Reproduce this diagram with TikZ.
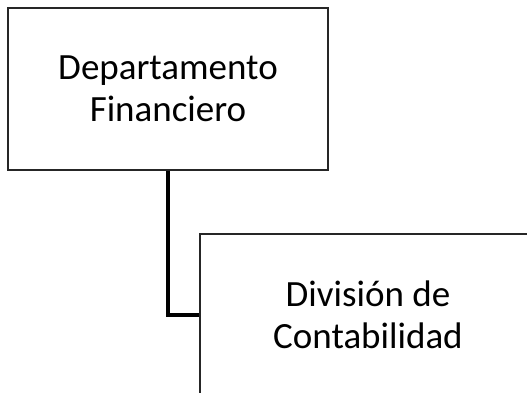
\documentclass[tikz,border=0pt]{standalone}
\usepackage{fontspec}
\setmainfont{Carlito}
\usetikzlibrary{shadows}
\begin{document}
\begin{tikzpicture}[x=1pt,y=1pt,
  box/.style={draw=black!85, line width=1.3pt, fill=white, align=center,
    font=\fontsize{37}{42}\selectfont,
    drop shadow={shadow xshift=1.2pt, shadow yshift=-1.2pt, opacity=0.35, fill=black!60}},
  link/.style={line width=4pt, black}]
\useasboundingbox (0,0) rectangle (527,393);
\clip (0,0) rectangle (527,393);
\node[box, minimum width=320pt, minimum height=162pt] (b1) at (168,304) {Departamento\\Financiero};
\node[box, minimum width=336pt, minimum height=162pt] (b2) at (368,78) {División de\\Contabilidad};
\draw[link] (b1.south) |- (b2.west);
\end{tikzpicture}
\end{document}
